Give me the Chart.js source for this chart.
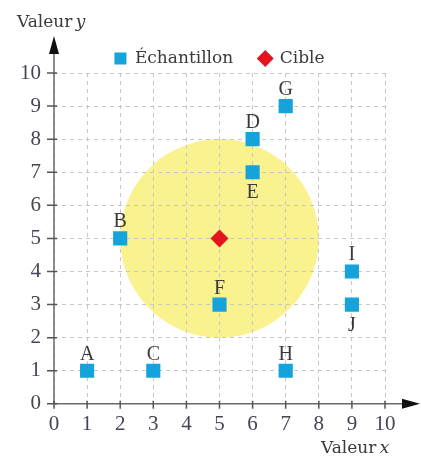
<!DOCTYPE html>
<html>
<head>
<meta charset="utf-8">
<script src="https://cdn.jsdelivr.net/npm/chart.js@4/dist/chart.umd.min.js"></script>
<style>
  html, body { margin: 0; padding: 0; background: #fff; }
</style>
</head>
<body>
<canvas id="chart" width="421" height="459"></canvas>
<script>
// échantillons
const pointNames = ['A', 'B', 'C', 'D', 'E', 'F', 'G', 'H', 'I', 'J'];
const sampleX = [1, 2, 3, 6, 6, 5, 7, 7, 9, 9];
const sampleY = [1, 5, 1, 8, 7, 3, 9, 1, 4, 3];
const nameBelow = [false, false, false, false, true, false, false, false, false, true];

// cible + zone
const targetX = [5];
const targetY = [5];
const targetRadius = 3;

const axisMin = 0;
const axisMax = 10;
const seriesNames = ['Échantillon', 'Cible'];
const xTitle = 'Valeur';
const yTitle = 'Valeur';

const textColor = '#3a3a3a';
const tickColor = '#454555';
const serif = '"DejaVu Serif", serif';
const tickFont = '"Liberation Serif", serif';

const extras = {
  id: 'extras',
  afterLayout(chart) {
    chart.legend.top += 4;
    chart.legend.bottom += 4;
  },
  beforeDraw(chart) {
    const { ctx, scales: { x, y } } = chart;
    const cx = x.getPixelForValue(targetX[0]);
    const cy = y.getPixelForValue(targetY[0]);
    const r = x.getPixelForValue(targetX[0] + targetRadius) - cx;
    ctx.save();
    ctx.fillStyle = '#faf28e';
    ctx.beginPath();
    ctx.arc(cx, cy, r, 0, Math.PI * 2);
    ctx.fill();
    ctx.restore();
  },
  afterDraw(chart) {
    const { ctx, chartArea: a, scales: { x, y } } = chart;
    ctx.save();

    // axes
    ctx.strokeStyle = '#6a6a6a';
    ctx.lineWidth = 1.5;
    ctx.beginPath();
    ctx.moveTo(a.left, a.bottom);
    ctx.lineTo(a.right + 22, a.bottom);
    ctx.moveTo(a.left, a.bottom);
    ctx.lineTo(a.left, a.top - 24);
    ctx.stroke();

    // flèches
    ctx.fillStyle = '#111';
    ctx.beginPath();
    ctx.moveTo(a.right + 35, a.bottom);
    ctx.lineTo(a.right + 17, a.bottom - 5);
    ctx.lineTo(a.right + 17, a.bottom + 5);
    ctx.closePath();
    ctx.fill();
    ctx.beginPath();
    ctx.moveTo(a.left, a.top - 37);
    ctx.lineTo(a.left - 5, a.top - 19);
    ctx.lineTo(a.left + 5, a.top - 19);
    ctx.closePath();
    ctx.fill();

    // graduations
    ctx.strokeStyle = '#555';
    ctx.lineWidth = 1.5;
    ctx.beginPath();
    x.ticks.forEach(t => {
      const px = x.getPixelForValue(t.value);
      ctx.moveTo(px, a.bottom - 3);
      ctx.lineTo(px, a.bottom + 5);
    });
    y.ticks.forEach(t => {
      const py = y.getPixelForValue(t.value);
      ctx.moveTo(a.left - 7, py);
      ctx.lineTo(a.left + 3, py);
    });
    ctx.stroke();

    // noms des points
    ctx.fillStyle = textColor;
    ctx.font = '20px "Liberation Serif", serif';
    ctx.textAlign = 'center';
    chart.getDatasetMeta(0).data.forEach((pt, i) => {
      if (nameBelow[i]) {
        ctx.textBaseline = 'top';
        ctx.fillText(pointNames[i], pt.x, pt.y + 11);
      } else {
        ctx.textBaseline = 'alphabetic';
        ctx.fillText(pointNames[i], pt.x, pt.y - 11);
      }
    });

    // titres des axes
    ctx.textAlign = 'left';
    ctx.textBaseline = 'alphabetic';
    ctx.font = '17px ' + serif;
    ctx.fillText(yTitle, 17, 27);
    let w = ctx.measureText(yTitle + ' ').width;
    ctx.font = 'italic 17px ' + serif;
    ctx.fillText('y', 17 + w - 2, 27);

    ctx.font = '17px ' + serif;
    ctx.fillText(xTitle, 321, 453);
    w = ctx.measureText(xTitle + ' ').width;
    ctx.font = 'italic 17px ' + serif;
    ctx.fillText('x', 321 + w - 2, 453);

    ctx.restore();
  }
};

const sampleData = sampleX.map((v, i) => ({ x: v, y: sampleY[i] }));
const targetData = targetX.map((v, i) => ({ x: v, y: targetY[i] }));

const gridOpts = {
  color: '#c6c6c6',
  lineWidth: 1,
  drawTicks: false
};

new Chart(document.getElementById('chart'), {
  type: 'scatter',
  data: {
    datasets: [
      {
        label: seriesNames[0],
        data: sampleData,
        pointStyle: 'rect',
        pointRadius: 10,
        pointHoverRadius: 10,
        backgroundColor: '#15a3dc',
        borderWidth: 0
      },
      {
        label: seriesNames[1],
        data: targetData,
        pointStyle: 'rectRot',
        pointRadius: 9,
        pointHoverRadius: 9,
        backgroundColor: '#e3141f',
        borderWidth: 0
      }
    ]
  },
  options: {
    responsive: false,
    animation: false,
    devicePixelRatio: 1,
    layout: { padding: { top: 20, left: 7, right: 36, bottom: 14 } },
    plugins: {
      tooltip: { enabled: false },
      legend: {
        position: 'top',
        fullSize: false,
        labels: {
          usePointStyle: true,
          boxHeight: 12,
          boxWidth: 12,
          padding: 26,
          color: textColor,
          font: { family: serif, size: 17 }
        }
      }
    },
    scales: {
      x: {
        type: 'linear',
        min: axisMin,
        max: axisMax,
        grid: gridOpts,
        border: { display: false, dash: [4, 4] },
        ticks: {
          stepSize: 1,
          padding: 8,
          color: tickColor,
          font: { family: tickFont, size: 21 }
        }
      },
      y: {
        type: 'linear',
        min: axisMin,
        max: axisMax,
        grid: gridOpts,
        border: { display: false, dash: [4, 4] },
        ticks: {
          stepSize: 1,
          padding: 13,
          color: tickColor,
          font: { family: tickFont, size: 21 }
        }
      }
    }
  },
  plugins: [extras]
});
</script>
</body>
</html>
